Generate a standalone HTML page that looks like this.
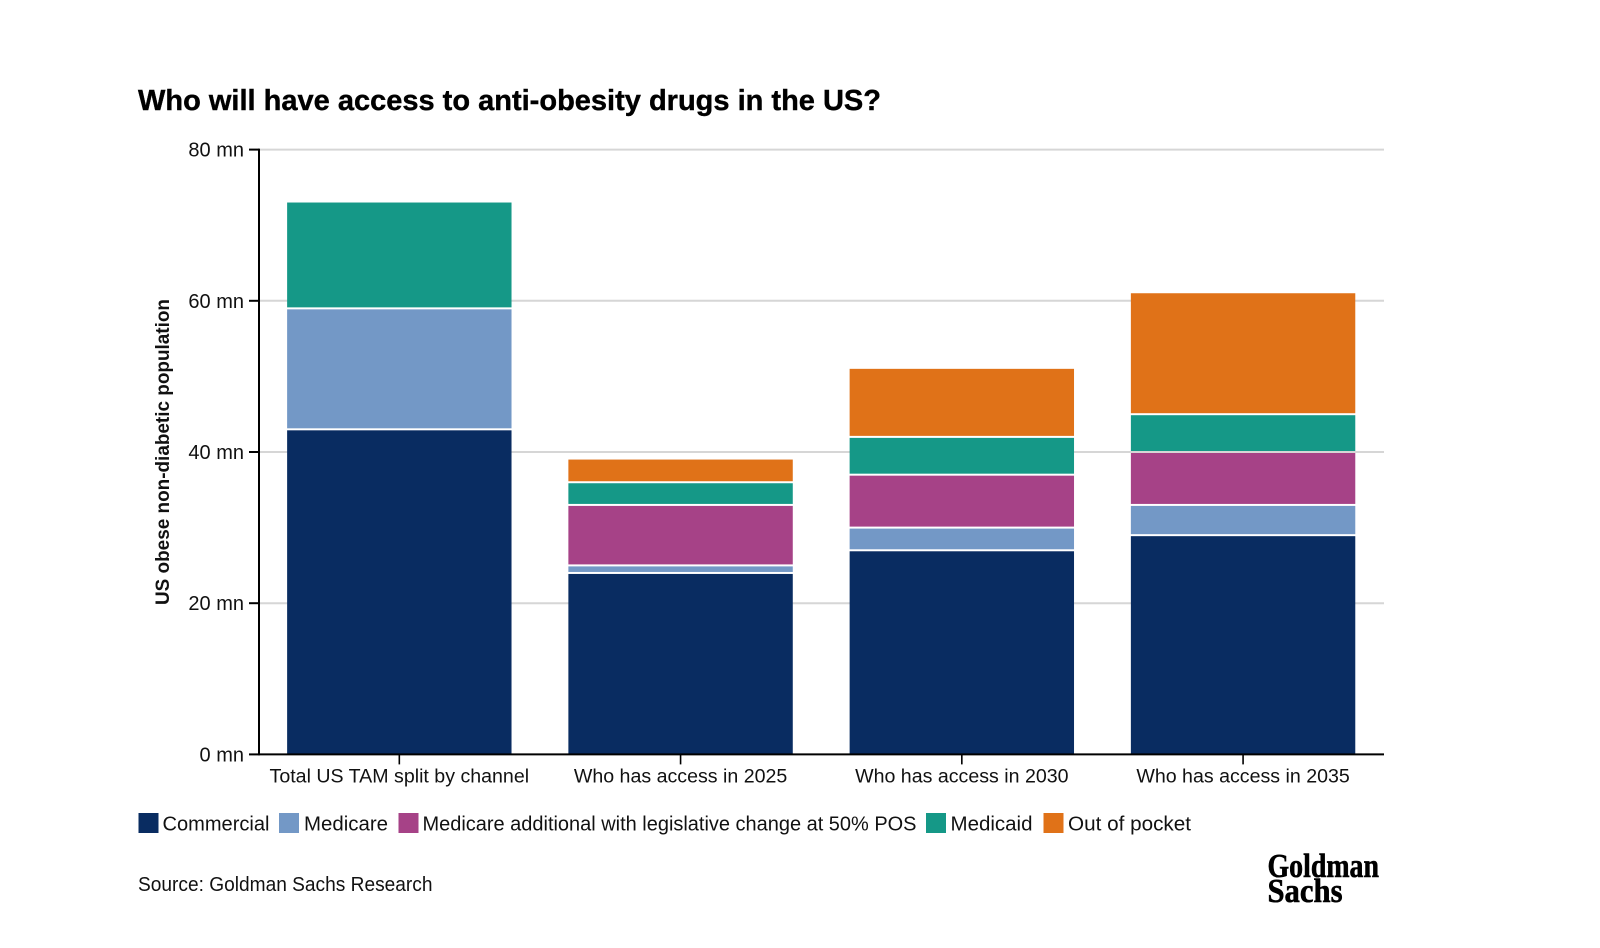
<!DOCTYPE html>
<html lang="en">
<head>
<meta charset="utf-8">
<title>Who will have access to anti-obesity drugs in the US?</title>
<style>
  html, body { margin: 0; padding: 0; background: #ffffff; }
  svg { display: block; font-family: "Liberation Sans", sans-serif; fill: #111111; }
</style>
</head>
<body>
<svg id="chart" xmlns="http://www.w3.org/2000/svg" width="1600" height="948" viewBox="0 0 1600 948">
  <rect x="0" y="0" width="1600" height="948" fill="#ffffff"/>
  <text x="138" y="110" font-size="29" font-weight="700" fill="#000000" stroke="#000000" stroke-width="0.4" textLength="743" lengthAdjust="spacingAndGlyphs">Who will have access to anti-obesity drugs in the US?</text>
  <g id="grid"></g>
  <g id="bars"></g>
  <g id="axes"></g>
  <text transform="translate(169,452) rotate(-90)" text-anchor="middle" font-size="19" font-weight="700" fill="#111111" textLength="306" lengthAdjust="spacingAndGlyphs">US obese non-diabetic population</text>

  <g font-size="20">
    <g>
      <rect x="138.5" y="813" width="20" height="20" fill="#092c61"/>
      <text x="162.5" y="830.5" textLength="107" lengthAdjust="spacingAndGlyphs">Commercial</text>
    </g>
    <g>
      <rect x="279" y="813" width="20" height="20" fill="#7398c6"/>
      <text x="304" y="830.5" textLength="84" lengthAdjust="spacingAndGlyphs">Medicare</text>
    </g>
    <g>
      <rect x="398.5" y="813" width="20" height="20" fill="#a64287"/>
      <text x="422.5" y="830.5" textLength="494" lengthAdjust="spacingAndGlyphs">Medicare additional with legislative change at 50% POS</text>
    </g>
    <g>
      <rect x="926" y="813" width="20" height="20" fill="#159887"/>
      <text x="950.5" y="830.5" textLength="82" lengthAdjust="spacingAndGlyphs">Medicaid</text>
    </g>
    <g>
      <rect x="1043.5" y="813" width="20" height="20" fill="#e07218"/>
      <text x="1068" y="830.5" textLength="123" lengthAdjust="spacingAndGlyphs">Out of pocket</text>
    </g>
  </g>

  <text x="138" y="891" font-size="20" textLength="294.5" lengthAdjust="spacingAndGlyphs">Source: Goldman Sachs Research</text>

  <g font-family="'Liberation Serif', serif" font-weight="700" fill="#000000" stroke="#000000" stroke-width="0.6" font-size="34">
    <text x="1267.5" y="877" textLength="111.5" lengthAdjust="spacingAndGlyphs">Goldman</text>
    <text x="1267.5" y="902" textLength="75" lengthAdjust="spacingAndGlyphs">Sachs</text>
  </g>
</svg>

<script>
const categories = ["Total US TAM split by channel", "Who has access in 2025", "Who has access in 2030", "Who has access in 2035"];
const commercial = [43, 24, 27, 29];
const medicare = [16, 1, 3, 4];
const medicareAdditional = [0, 8, 7, 7];
const medicaid = [14, 3, 5, 5];
const outOfPocket = [0, 3, 9, 16];
const yTicks = [0, 20, 40, 60, 80];
const yUnit = " mn";

const seriesList = [
  { key: "commercial", values: commercial, color: "#092c61" },
  { key: "medicare", values: medicare, color: "#7398c6" },
  { key: "medicare-additional", values: medicareAdditional, color: "#a64287" },
  { key: "medicaid", values: medicaid, color: "#159887" },
  { key: "out-of-pocket", values: outOfPocket, color: "#e07218" }
];

const NS = "http://www.w3.org/2000/svg";
const plot = { left: 259, right: 1384, top: 149.6, bottom: 754.4 };
const yMax = yTicks[yTicks.length - 1];
const band = (plot.right - plot.left) / categories.length;
const barWidth = band * 0.8 - 0.6;
const yScale = v => plot.bottom - (v / yMax) * (plot.bottom - plot.top);
const xCenter = i => plot.left + band * (i + 0.5) - 0.3;

function make(tag, attrs) {
  const el = document.createElementNS(NS, tag);
  for (const k in attrs) el.setAttribute(k, attrs[k]);
  return el;
}

const gridGroup = document.getElementById("grid");
const barsGroup = document.getElementById("bars");
const axesGroup = document.getElementById("axes");

yTicks.forEach(t => {
  if (t !== 0) {
    const line = make("line", { x1: plot.left, x2: plot.right, y1: yScale(t), y2: yScale(t), stroke: "#d6d6d6", "stroke-width": 2 });
    
    
    gridGroup.appendChild(line);
  }
  const tick = make("line", { x1: plot.left - 10, x2: plot.left, y1: yScale(t), y2: yScale(t), stroke: "#000000", "stroke-width": 2 });
  
  
  axesGroup.appendChild(tick);
  const label = make("text", { x: plot.left - 15, y: yScale(t) + 7, "text-anchor": "end", "font-size": 20 });
  
  
  label.textContent = t + yUnit;
  axesGroup.appendChild(label);
});

categories.forEach((cat, i) => {
  let cum = 0;
  const total = seriesList.reduce((sum, s) => sum + s.values[i], 0);
  seriesList.forEach(s => {
    const v = s.values[i];
    if (v > 0) {
      const y0 = yScale(cum);
      const y1 = yScale(cum + v);
      const yTop = (cum + v >= total) ? y1 : y1 + 1;
      const yBottom = cum === 0 ? y0 : y0 - 1;
      const rect = make("rect", { x: xCenter(i) - barWidth / 2, y: yTop, width: barWidth, height: Math.max(0.5, yBottom - yTop), fill: s.color });
      
      
      rect.setAttribute('data-series', s.key);
      barsGroup.appendChild(rect);
    }
    cum += v;
  });

  const tick = make("line", { x1: xCenter(i), x2: xCenter(i), y1: plot.bottom, y2: plot.bottom + 10, stroke: "#000000", "stroke-width": 1.6 });
  
  
  axesGroup.appendChild(tick);
  const label = make("text", { x: xCenter(i), y: 782.5, "text-anchor": "middle", "font-size": 19.6 });
  
  
  label.textContent = cat;
  axesGroup.appendChild(label);
});

const yAxis = make("line", { x1: plot.left, x2: plot.left, y1: plot.top - 1, y2: plot.bottom + 1, stroke: "#000000", "stroke-width": 2 });


axesGroup.appendChild(yAxis);
const xAxis = make("line", { x1: plot.left, x2: plot.right, y1: plot.bottom, y2: plot.bottom, stroke: "#000000", "stroke-width": 2 });


axesGroup.appendChild(xAxis);
</script>
</body>
</html>
